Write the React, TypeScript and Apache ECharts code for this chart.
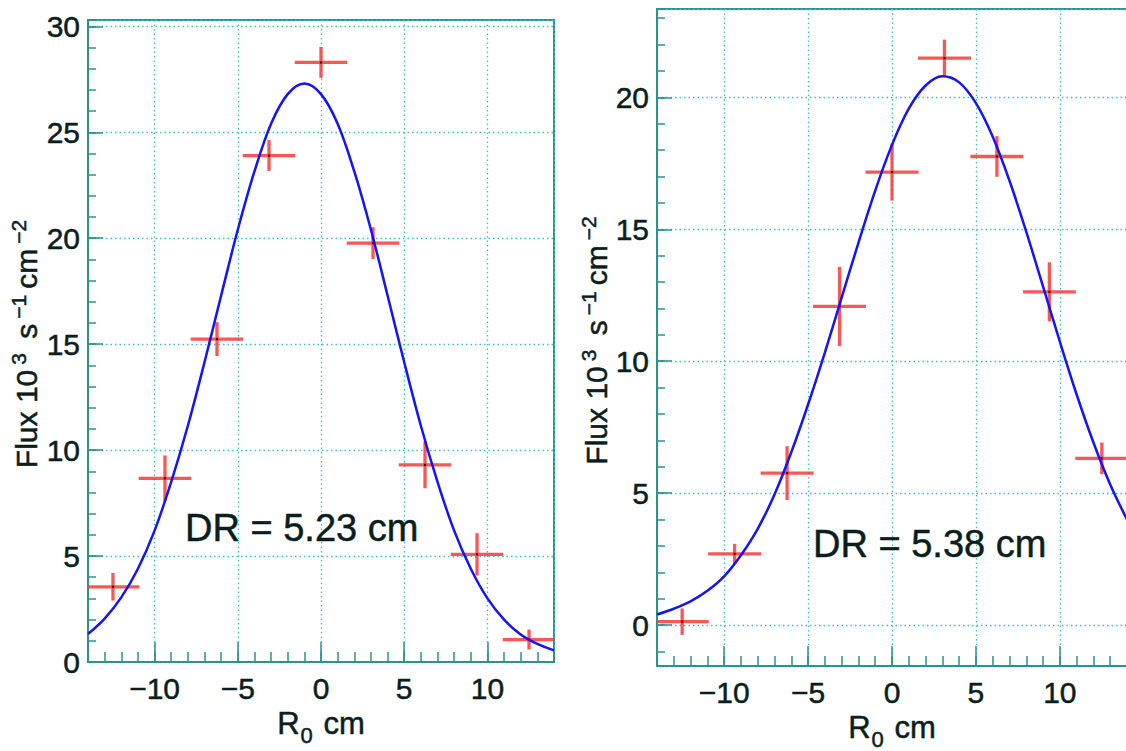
import React, { useEffect, useRef } from 'react';
import * as echarts from 'echarts';

// ---- data ----
const binCenters = [-12.5, -9.375, -6.25, -3.125, 0, 3.125, 6.25, 9.375, 12.5];
const binHalfWidths = [1.58, 1.58, 1.58, 1.58, 1.58, 1.58, 1.58, 1.58, 1.58];

const fluxLeft = [3.55, 8.67, 15.24, 23.9, 28.3, 19.77, 9.3, 5.08, 1.06];
const fluxErrLeft = [0.65, 1.08, 0.8, 0.73, 0.73, 0.75, 1.1, 1.0, 0.47];

const fluxRight = [0.13, 2.7, 5.76, 12.08, 17.17, 21.49, 17.76, 12.63, 6.32];
const fluxErrRight = [0.5, 0.38, 1.02, 1.5, 1.08, 0.7, 0.77, 1.12, 0.6];

const curveX = [-14, -13, -12, -11, -10, -9, -8, -7, -6, -5, -4, -3, -2, -1, 0, 1, 2, 3, 4, 5, 6, 7, 8, 9, 10, 11, 12, 13, 14];
const curveLeft = [1.32, 2.05, 3.05, 4.4, 6.2, 8.5, 11.15, 14.15, 17.3, 20.4, 23.15, 25.4, 26.8, 27.3, 26.8, 25.4, 23.15, 20.4, 17.3, 14.15, 11.15, 8.5, 6.2, 4.4, 3.0, 2.0, 1.3, 0.85, 0.55];
const curveRight = [0.4, 0.62, 0.9, 1.3, 1.85, 2.65, 3.65, 4.95, 6.55, 8.36, 10.33, 12.41, 14.49, 16.47, 18.2, 19.57, 20.45, 20.8, 20.57, 19.78, 18.51, 16.84, 14.9, 12.83, 10.74, 8.74, 6.92, 5.33, 4.0];

const xRange = [-14, 14];
const yRangeLeft = [0, 30.3];
const yRangeRight = [-1.55, 23.35];

const annotationLeft = 'DR = 5.23 cm';
const annotationRight = 'DR = 5.38 cm';

// ---- styling ----
const FONT = '"Liberation Sans", Arial, Helvetica, sans-serif';
const TEXT = '#0a1f1d';
const FRAME = '#2a938e';
const GRID = '#36c4c4';
const RED = '#f43a3a';
const BLUE = '#1414f5';
const WEIGHT = { textBorderColor: TEXT, textBorderWidth: 0.5 };

const minus = (v: number) => (v < 0 ? '\u2212' + Math.abs(v) : String(v));

const yTitle = '{a|Flux 10}{sup|3}{a| s}{sup|\u22121}{a|cm}{sup|\u22122}';
const xTitle = '{a|R}{sub|0}{a| cm}';

const yTitleRich = {
  a: { fontSize: 30, lineHeight: 36, fontFamily: FONT, color: TEXT, ...WEIGHT },
  sup: { fontSize: 21, lineHeight: 21, verticalAlign: 'top', fontFamily: FONT, color: TEXT, padding: [0, 6, 0, 5], ...WEIGHT },
};
const xTitleRich = {
  a: { fontSize: 31, lineHeight: 46, fontFamily: FONT, color: TEXT, ...WEIGHT },
  sub: { fontSize: 22, lineHeight: 22, verticalAlign: 'bottom', fontFamily: FONT, color: TEXT, padding: [0, 2, 0, 1], ...WEIGHT },
};

function buildAxes(gi: number, yRange: number[], yMajorSplit: number, yMinorSplit: number, yNameGap: number) {
  const xMajor: any = {
    type: 'value', gridIndex: gi, min: xRange[0], max: xRange[1], splitNumber: 5, position: 'bottom',
    axisLine: { show: true, onZero: false, lineStyle: { color: FRAME, width: 2 } },
    axisTick: { show: true, inside: true, length: 20, lineStyle: { color: FRAME, width: 1.5 } },
    axisLabel: {
      show: true, margin: 11, fontSize: 30, fontFamily: FONT, color: TEXT, ...WEIGHT,
      showMinLabel: false, showMaxLabel: false, formatter: minus, hideOverlap: false,
    },
    splitLine: { show: true, lineStyle: { color: GRID, width: 1.3, type: [1.5, 3] } },
    name: xTitle, nameLocation: 'middle', nameGap: 38, nameMoveOverlap: false,
    nameTextStyle: { rich: xTitleRich },
  };
  const xMinor: any = {
    type: 'value', gridIndex: gi, min: xRange[0], max: xRange[1], splitNumber: 28, position: 'bottom',
    axisLine: { show: false, onZero: false },
    axisTick: { show: true, inside: true, length: 10, lineStyle: { color: FRAME, width: 1.5 } },
    axisLabel: { show: false }, splitLine: { show: false },
  };
  const yMajor: any = {
    type: 'value', gridIndex: gi, min: yRange[0], max: yRange[1], splitNumber: yMajorSplit, position: 'left',
    axisLine: { show: true, onZero: false, lineStyle: { color: FRAME, width: 2 } },
    axisTick: { show: true, inside: true, length: 15, lineStyle: { color: FRAME, width: 1.5 } },
    axisLabel: {
      show: true, margin: 8, fontSize: 30, fontFamily: FONT, color: TEXT, ...WEIGHT,
      showMinLabel: yRange[0] === 0, showMaxLabel: false, formatter: minus, hideOverlap: false,
    },
    splitLine: { show: true, lineStyle: { color: GRID, width: 1.3, type: [1.5, 3] } },
    name: yTitle, nameLocation: 'middle', nameGap: yNameGap, nameMoveOverlap: false,
    nameTextStyle: { rich: yTitleRich },
  };
  const yMinor: any = {
    type: 'value', gridIndex: gi, min: yRange[0], max: yRange[1], splitNumber: yMinorSplit, position: 'left',
    axisLine: { show: false, onZero: false },
    axisTick: { show: true, inside: true, length: 8, lineStyle: { color: FRAME, width: 1.5 } },
    axisLabel: { show: false }, splitLine: { show: false },
  };
  return { x: [xMajor, xMinor], y: [yMajor, yMinor] };
}

function errorSeries(axisIdx: number, ys: number[], errs: number[]) {
  return {
    type: 'custom', xAxisIndex: axisIdx, yAxisIndex: axisIdx, clip: true, z: 3,
    dimensions: ['x', 'y', 'ex', 'ey'],
    encode: { x: 0, y: 1 },
    data: binCenters.map((x, i) => [x, ys[i], binHalfWidths[i], errs[i]]),
    renderItem: (params: any, api: any) => {
      const x = api.value(0), y = api.value(1), ex = api.value(2), ey = api.value(3);
      const c = api.coord([x, y]);
      const l = api.coord([x - ex, y]);
      const r = api.coord([x + ex, y]);
      const t = api.coord([x, y + ey]);
      const b = api.coord([x, y - ey]);
      const st = { stroke: RED, lineWidth: 3.3, opacity: 0.85 };
      return {
        type: 'group',
        children: [
          { type: 'line', shape: { x1: l[0], y1: l[1], x2: r[0], y2: r[1] }, style: st },
          { type: 'line', shape: { x1: t[0], y1: t[1], x2: b[0], y2: b[1] }, style: st },
          { type: 'rect', shape: { x: c[0] - 1, y: c[1] - 1, width: 2, height: 2 }, style: { fill: '#331010' } },
        ],
      };
    },
  };
}

function curveSeries(axisIdx: number, ys: number[]) {
  return {
    type: 'line', xAxisIndex: axisIdx, yAxisIndex: axisIdx, z: 4, clip: true,
    data: curveX.map((x, i) => [x, ys[i]]),
    smooth: 0.35, showSymbol: false, symbol: 'none',
    lineStyle: { color: BLUE, width: 2.5 },
  };
}

export default function App() {
  const ref = useRef<HTMLDivElement>(null);
  useEffect(() => {
    if (!ref.current) return;
    const chart = echarts.init(ref.current, undefined, { renderer: 'svg' });
    const L = buildAxes(0, yRangeLeft, 6, 30, 44);
    const R = buildAxes(1, yRangeRight, 5, 25, 43);
    const option: any = {
      animation: false,
      backgroundColor: '#ffffff',
      textStyle: { fontFamily: FONT },
      grid: [
        { left: 88, top: 20, width: 466, height: 642, show: true, borderColor: FRAME, borderWidth: 2, containLabel: false, outerBoundsMode: 'none' },
        { left: 657, top: 9, width: 470, height: 657, show: true, borderColor: FRAME, borderWidth: 2, containLabel: false, outerBoundsMode: 'none' },
      ],
      xAxis: [...L.x, ...R.x],
      yAxis: [...L.y, ...R.y],
      series: [
        errorSeries(0, fluxLeft, fluxErrLeft),
        curveSeries(0, curveLeft),
        errorSeries(2, fluxRight, fluxErrRight),
        curveSeries(2, curveRight),
      ],
      graphic: [
        { type: 'text', x: 185, y: 528, z: 10, style: { text: annotationLeft, font: `38px ${FONT}`, fill: TEXT, stroke: TEXT, lineWidth: 0.5, align: 'left', verticalAlign: 'middle' } },
        { type: 'text', x: 813, y: 544, z: 10, style: { text: annotationRight, font: `38px ${FONT}`, fill: TEXT, stroke: TEXT, lineWidth: 0.5, align: 'left', verticalAlign: 'middle' } },
      ],
    };
    chart.setOption(option);
    return () => chart.dispose();
  }, []);
  return <div ref={ref} style={{ position: 'absolute', left: 0, top: 0, width: 1126, height: 751, background: '#fff' }} />;
}
